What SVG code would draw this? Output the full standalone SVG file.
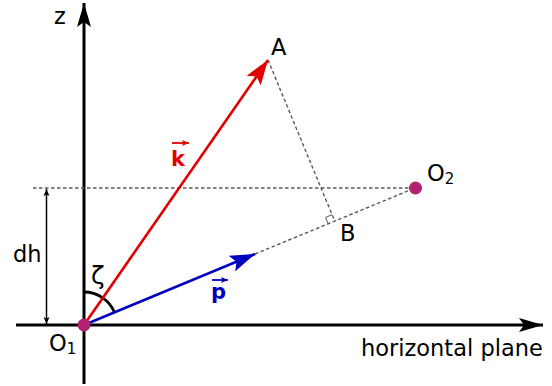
<svg xmlns="http://www.w3.org/2000/svg" width="552" height="386" viewBox="0 0 552 386">
<style>
text{font-family:"DejaVu Sans","Liberation Sans",sans-serif;font-size:22.5px;fill:#000}
.axis{stroke:#000;stroke-width:3;fill:none}
.dash{stroke:#5a5a5a;stroke-width:1.4;stroke-dasharray:3.5,2.5;fill:none}
.vec{font-weight:bold;font-size:21px}
</style>
<defs>
<marker id="ah" markerWidth="25" markerHeight="14" refX="24" refY="7" orient="auto" markerUnits="userSpaceOnUse"><path d="M0,0 L24,7 L0,14 L5,7 Z" fill="#000"/></marker>
<marker id="ahr" markerWidth="26" markerHeight="17" refX="25" refY="8.5" orient="auto" markerUnits="userSpaceOnUse"><path d="M0,0 L25,8.5 L0,17 L5,8.5 Z" fill="#e00000"/></marker>
<marker id="ahb" markerWidth="26" markerHeight="17" refX="25" refY="8.5" orient="auto" markerUnits="userSpaceOnUse"><path d="M0,0 L25,8.5 L0,17 L5,8.5 Z" fill="#0000c0"/></marker>
<marker id="sm" markerWidth="8" markerHeight="8" refX="7" refY="4" orient="auto-start-reverse" markerUnits="userSpaceOnUse"><path d="M0,1 L7,4 L0,7 L1.5,4 Z" fill="#000"/></marker>
<marker id="va" markerWidth="8" markerHeight="8" refX="7" refY="4" orient="auto" markerUnits="userSpaceOnUse"><path d="M0,1 L7,4 L0,7 L1.5,4 Z" fill="context-stroke"/></marker>
</defs>
<g id="connectors">
<line class="axis" x1="84" y1="384" x2="84" y2="3" marker-end="url(#ah)"/>
<line class="axis" x1="16" y1="325" x2="543" y2="325" marker-end="url(#ah)"/>
<line class="dash" x1="33" y1="188" x2="415" y2="188"/>
<line class="dash" x1="255" y1="254" x2="415" y2="188"/>
<line class="dash" x1="268" y1="60" x2="334.8" y2="221.2"/>
<path class="dash" d="M332.1,214.7 L325.6,217.4 L328.3,223.9" style="stroke-dasharray:none;stroke-width:1"/>
<line x1="46.5" y1="189" x2="46.5" y2="324" stroke="#000" stroke-width="1.5" marker-start="url(#sm)" marker-end="url(#sm)"/>
<path d="M84,292 A33,33 0 0 1 114.5,312.4" stroke="#000" stroke-width="2.8" fill="none"/>
<line x1="84" y1="325" x2="268" y2="60" stroke="#e00000" stroke-width="2.6" marker-end="url(#ahr)"/>
<line x1="84" y1="325" x2="255" y2="254" stroke="#0000c0" stroke-width="2.6" marker-end="url(#ahb)"/>
</g>
<g id="O1"><circle cx="84" cy="325" r="6.5" fill="#b3206f"/><text x="49" y="351">O<tspan font-size="15" dy="3">1</tspan></text></g>
<g id="O2"><circle cx="415.5" cy="188" r="6.5" fill="#b3206f"/><text x="427" y="181">O<tspan font-size="15" dy="3">2</tspan></text></g>
<g id="A"><text x="271" y="55">A</text></g>
<g id="B"><text x="340" y="241">B</text></g>
<g id="z"><text x="54" y="24">z</text></g>
<g id="dh"><text x="13" y="262">dh</text></g>
<g id="zeta"><text x="91" y="284" style="font-size:25px">ζ</text></g>
<g id="k"><text class="vec" x="171" y="166" style="fill:#e00000">k</text><line x1="172" y1="143" x2="189" y2="143" stroke="#e00000" stroke-width="1.8" marker-end="url(#va)"/></g>
<g id="p"><text class="vec" x="211" y="299" style="fill:#0000c0">p</text><line x1="212" y1="280" x2="228" y2="280" stroke="#0000c0" stroke-width="1.8" marker-end="url(#va)"/></g>
<g id="horizontal"><text x="361" y="356">horizontal plane</text></g>
</svg>
